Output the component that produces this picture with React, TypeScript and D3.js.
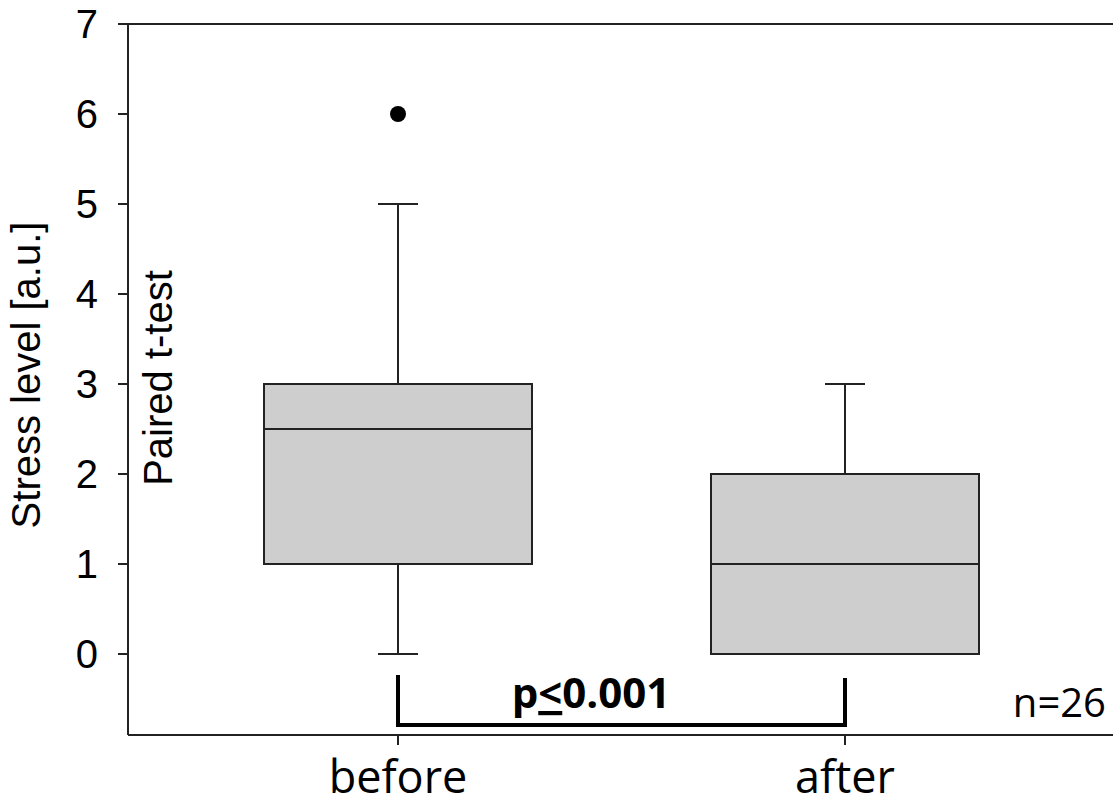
import * as React from 'react';
import * as d3 from 'd3';

const groups = ['before', 'after'];
const q1 = [1, 0];
const medians = [2.5, 1];
const q3 = [3, 2];
const whiskerLow = [0, 0];
const whiskerHigh = [5, 3];
const outliers = [[6], []];
const yTicks = [0, 1, 2, 3, 4, 5, 6, 7];

export default function App() {
	const W = 1113;
	const H = 803;
	const left = 128;
	const right = 1113;
	const y = d3.scaleLinear().domain([0, 7]).range([654, 24]);
	const yBottom = 735;
	const x = d3.scalePoint<string>().domain(groups).range([398, 845]);
	const boxW = 268;
	const capW = 40;
	const sans = 'Liberation Sans, Arial, sans-serif';
	const label = 'Open Sans, sans-serif';

	return (
		<svg width={W} height={H} style={{ position: 'absolute', left: 0, top: 0 }}>
			<rect width={W} height={H} fill="#fff" />
			{/* frame */}
			<line x1={118} x2={right} y1={y(7)} y2={y(7)} stroke="#222" strokeWidth={2} />
			<line x1={left} x2={left} y1={y(7)} y2={yBottom} stroke="#222" strokeWidth={2} />
			<line x1={left} x2={right} y1={yBottom} y2={yBottom} stroke="#222" strokeWidth={2} />
			{yTicks.map(t => (
				<g key={t}>
					<line x1={118} x2={left} y1={y(t)} y2={y(t)} stroke="#222" strokeWidth={2} />
					<text x={98} y={y(t)} dy="0.36em" textAnchor="end" fontFamily={sans} fontSize={40}>{t}</text>
				</g>
			))}
			{groups.map((g, i) => {
				const cx = x(g)!;
				return (
					<g key={g}>
						<line x1={cx} x2={cx} y1={yBottom} y2={yBottom + 10} stroke="#222" strokeWidth={2} />
						<text x={cx} y={793} textAnchor="middle" fontFamily={label} fontSize={45}>{g}</text>
						<line x1={cx} x2={cx} y1={y(whiskerLow[i])} y2={y(q1[i])} stroke="#222" strokeWidth={2} />
						<line x1={cx} x2={cx} y1={y(q3[i])} y2={y(whiskerHigh[i])} stroke="#222" strokeWidth={2} />
						<line x1={cx - capW / 2} x2={cx + capW / 2} y1={y(whiskerLow[i])} y2={y(whiskerLow[i])} stroke="#222" strokeWidth={2} />
						<line x1={cx - capW / 2} x2={cx + capW / 2} y1={y(whiskerHigh[i])} y2={y(whiskerHigh[i])} stroke="#222" strokeWidth={2} />
						<rect x={cx - boxW / 2} width={boxW} y={y(q3[i])} height={y(q1[i]) - y(q3[i])} fill="#cecece" stroke="#222" strokeWidth={2} />
						<line x1={cx - boxW / 2} x2={cx + boxW / 2} y1={y(medians[i])} y2={y(medians[i])} stroke="#222" strokeWidth={2} />
						{outliers[i].map((o, j) => (
							<circle key={j} cx={cx} cy={y(o)} r={8} fill="#000" />
						))}
					</g>
				);
			})}
			{/* significance bracket */}
			<path d={`M${x('before')},675 V725 H${x('after')} V678`} fill="none" stroke="#000" strokeWidth={4} />
			<text x={591} y={708} textAnchor="middle" fontFamily={label} fontSize={42} fontWeight="bold">
				p<tspan textDecoration="underline">&lt;</tspan>0.001
			</text>
			<text x={1106} y={717} textAnchor="end" fontFamily={label} fontSize={40}>n=26</text>
			<text transform="translate(40,375) rotate(-90)" textAnchor="middle" fontFamily={sans} fontSize={40}>Stress level [a.u.]</text>
			<text transform="translate(172,378) rotate(-90)" textAnchor="middle" fontFamily={sans} fontSize={40}>Paired t-test</text>
		</svg>
	);
}
